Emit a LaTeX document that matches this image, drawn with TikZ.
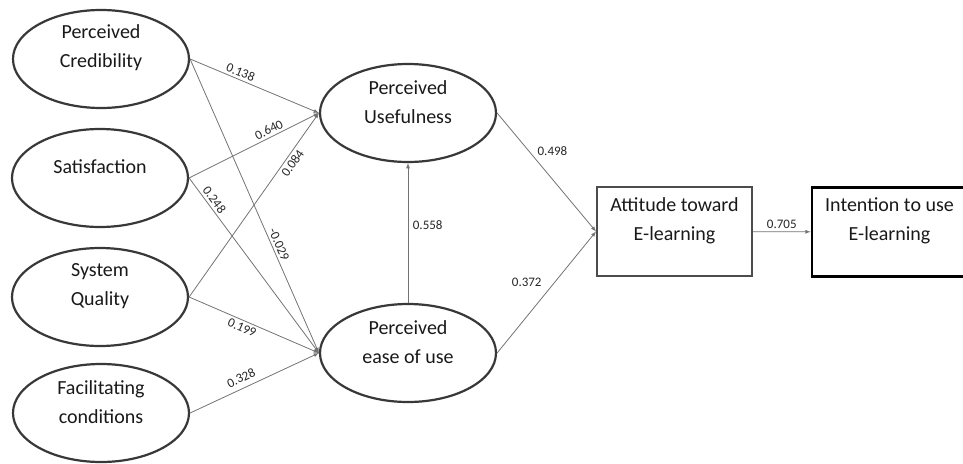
\documentclass[tikz,border=0pt]{standalone}
\usepackage{fontspec}
\setmainfont{Carlito}
\usetikzlibrary{shapes.geometric,arrows,positioning}

\tikzset{
  latent/.style={ellipse, draw=black!78, line width=2.2pt, minimum width=176pt, minimum height=98pt, inner sep=0pt},
  observed/.style={rectangle, draw=black!70, line width=2pt, minimum width=155pt, minimum height=89pt, inner sep=0pt},
  caption/.style={align=center, font=\fontsize{20}{29}\selectfont, text=black!90, yshift=11pt},
  coef/.style={font=\fontsize{13}{15}\selectfont, text=black!85, inner sep=2.5pt}
}

\begin{document}
\begin{tikzpicture}[x=1pt, y=-1pt, >=latex]
   \useasboundingbox (0,0) rectangle (963,463);
   \node[latent, label={[caption]center:Perceived\\Credibility}] (cred) at (101,59) {};
   \node[latent, label={[caption]center:Satisfaction}] (sat) at (100,178) {};
   \node[latent, label={[caption]center:System\\Quality}] (sysq) at (100,297) {};
   \node[latent, label={[caption]center:Facilitating\\conditions}] (facil) at (101,413) {};
   \node[latent, label={[caption]center:Perceived\\Usefulness}] (useful) at (408,113) {};
   \node[latent, label={[caption]center:Perceived\\ease of use}] (ease) at (408,353) {};
   \node[observed, label={[caption]center:Attitude toward\\E-learning}] (att) at (674.5,231.5) {};
   \node[observed, draw=black, line width=2.8pt, label={[caption]center:Intention to use\\E-learning}] (intent) at (889.5,232) {};
   \begin{scope}[every edge/.style={draw=black!55, line width=0.8pt, ->}, every node/.style=coef]
    \path (cred.east) edge node[sloped, above, pos=0.37] {0.138} (useful.west);
    \path (cred.east) edge node[sloped, above, pos=0.64] {-0.029} (ease.west);
    \path (sat.east) edge node[sloped, above, pos=0.64] {0.640} (useful.west);
    \path (sat.east) edge node[sloped, above, pos=0.15] {0.248} (ease.west);
    \path (sysq.east) edge node[sloped, below, pos=0.75] {0.084} (useful.west);
    \path (sysq.east) edge node[sloped, below, pos=0.43] {0.199} (ease.west);
    \path (facil.east) edge node[sloped, above, pos=0.43, yshift=3pt] {0.328} (ease.west);
    \path (ease) edge node[right, pos=0.56, xshift=2pt] {0.558} (useful);
    \path (useful.east) edge node[right, pos=0.32, xshift=6pt] {0.498} (att.west);
    \path (ease.east) edge node[left, pos=0.58, xshift=-10pt] {0.372} (att.west);
    \path (att) edge node[above] {0.705} (intent);
   \end{scope}
\end{tikzpicture}
\end{document}
